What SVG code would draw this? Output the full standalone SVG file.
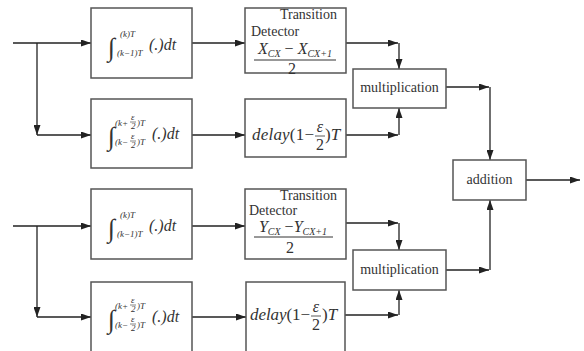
<svg xmlns="http://www.w3.org/2000/svg" width="584" height="351" viewBox="0 0 584 351" font-family="'Liberation Serif', 'DejaVu Serif', serif">
<style>
.box{fill:#fff;stroke:#555;stroke-width:1.5}
.ln{fill:none;stroke:#222;stroke-width:1.3}
text{font-family:'Liberation Serif','DejaVu Serif',serif;fill:#333}
.lb{font-size:14px}
.m{font-style:italic}
.int{font-size:26px}
.lim{font-size:9px;font-style:italic}
.ex{font-size:16px}
.dl{font-size:17px}
.sub{font-size:10px;font-style:italic}
</style>
<defs>
<marker id="ar" markerWidth="10" markerHeight="7" refX="10" refY="3.5" orient="auto" markerUnits="userSpaceOnUse">
<path d="M0,0 L10,3.5 L0,7 z" fill="#222"/>
</marker>
</defs>
<rect width="584" height="351" fill="#fff"/>
<g id="connectors" class="ln" marker-end="url(#ar)">
<path d="M13,43 H91"/>
<path d="M37,43 V135"/>
<path d="M37,135 H91"/>
<path d="M192,43 H245"/>
<path d="M192,135 H245"/>
<path d="M346,43 H398"/>
<path d="M399,43 V69"/>
<path d="M346,135 H398"/>
<path d="M399,135 V108"/>
<path d="M446,87 H489"/>
<path d="M490,87 V160"/>
<path d="M526,180 H580"/>
<path d="M13,226 H91"/>
<path d="M37,226 V317"/>
<path d="M37,317 H91"/>
<path d="M192,226 H245"/>
<path d="M192,317 H246"/>
<path d="M346,223 H398"/>
<path d="M399,223 V250"/>
<path d="M345,315 H398"/>
<path d="M399,315 V290"/>
<path d="M446,270 H489"/>
<path d="M490,270 V200"/>
</g>
<g id="int1">
<rect class="box" x="91" y="8" width="101" height="70"/>
<text class="int" x="108" y="56">∫</text>
<text class="lim" x="120" y="37">(k)T</text>
<text class="lim" x="117" y="56">(k−1)T</text>
<text class="ex m" x="149" y="50">(.)dt</text>
</g>
<g id="int2">
<rect class="box" x="91" y="99" width="101" height="69"/>
<text class="int" x="108" y="145">∫</text>
<text class="lim" x="115" y="126">(k+</text>
<text class="lim" x="131" y="120">ε</text>
<line x1="130" y1="122" x2="136" y2="122" stroke="#333" stroke-width="0.6"/>
<text class="lim" x="131" y="129">2</text>
<text class="lim" x="137" y="126">)T</text>
<text class="lim" x="115" y="145">(k−</text>
<text class="lim" x="131" y="139">ε</text>
<line x1="130" y1="141" x2="136" y2="141" stroke="#333" stroke-width="0.6"/>
<text class="lim" x="131" y="148">2</text>
<text class="lim" x="137" y="145">)T</text>
<text class="ex m" x="152" y="139">(.)dt</text>
</g>
<g id="td1">
<rect class="box" x="245" y="8" width="101" height="65"/>
<text class="lb" x="337" y="19" text-anchor="end">Transition</text>
<text class="lb" x="251" y="36">Detector</text>
<text class="ex" x="295" y="54" text-anchor="middle"><tspan class="m">X</tspan><tspan class="sub" dy="3">CX</tspan><tspan dy="-3"> − </tspan><tspan class="m">X</tspan><tspan class="sub" dy="3">CX+1</tspan></text>
<line x1="254" y1="60" x2="336" y2="60" stroke="#333" stroke-width="1"/>
<text class="ex" x="292" y="74" text-anchor="middle">2</text>
</g>
<g id="delay1">
<rect class="box" x="245" y="99" width="101" height="58"/>
<text class="dl" x="252" y="140" textLength="62" lengthAdjust="spacing"><tspan class="m">delay</tspan>(1−</text>
<text class="ex m" x="320" y="132" text-anchor="middle">ε</text>
<line x1="315" y1="136" x2="325" y2="136" stroke="#333" stroke-width="0.8"/>
<text class="ex" x="320" y="150" text-anchor="middle">2</text>
<text class="dl" x="325" y="140">)<tspan class="m">T</tspan></text>
</g>
<g id="mult1">
<rect class="box" x="353" y="69" width="93" height="39"/>
<text class="lb" x="399.5" y="92" text-anchor="middle">multiplication</text>
</g>
<g id="addition">
<rect class="box" x="453" y="160" width="73" height="40"/>
<text class="lb" x="489.5" y="184" text-anchor="middle">addition</text>
</g>
<g id="int3">
<rect class="box" x="91" y="189" width="101" height="70"/>
<text class="int" x="108" y="237">∫</text>
<text class="lim" x="120" y="218">(k)T</text>
<text class="lim" x="117" y="237">(k−1)T</text>
<text class="ex m" x="149" y="231">(.)dt</text>
</g>
<g id="int4">
<rect class="box" x="91" y="282" width="101" height="75"/>
<text class="int" x="108" y="328">∫</text>
<text class="lim" x="115" y="309">(k+</text>
<text class="lim" x="131" y="303">ε</text>
<line x1="130" y1="305" x2="136" y2="305" stroke="#333" stroke-width="0.6"/>
<text class="lim" x="131" y="312">2</text>
<text class="lim" x="137" y="309">)T</text>
<text class="lim" x="115" y="328">(k−</text>
<text class="lim" x="131" y="322">ε</text>
<line x1="130" y1="324" x2="136" y2="324" stroke="#333" stroke-width="0.6"/>
<text class="lim" x="131" y="331">2</text>
<text class="lim" x="137" y="328">)T</text>
<text class="ex m" x="152" y="322">(.)dt</text>
</g>
<g id="td2">
<rect class="box" x="245" y="189" width="101" height="70"/>
<text class="lb" x="337" y="200" text-anchor="end">Transition</text>
<text class="lb" x="249" y="215">Detector</text>
<text class="ex" x="293" y="232" text-anchor="middle"><tspan class="m">Y</tspan><tspan class="sub" dy="3">CX</tspan><tspan dy="-3"> −</tspan><tspan class="m">Y</tspan><tspan class="sub" dy="3">CX+1</tspan></text>
<line x1="254" y1="237" x2="333" y2="237" stroke="#333" stroke-width="1"/>
<text class="ex" x="290" y="253" text-anchor="middle">2</text>
</g>
<g id="delay2">
<rect class="box" x="246" y="282" width="99" height="75"/>
<text class="dl" x="250" y="320" textLength="60" lengthAdjust="spacing"><tspan class="m">delay</tspan>(1−</text>
<text class="ex m" x="316" y="312" text-anchor="middle">ε</text>
<line x1="311" y1="316" x2="321" y2="316" stroke="#333" stroke-width="0.8"/>
<text class="ex" x="316" y="330" text-anchor="middle">2</text>
<text class="dl" x="322" y="320">)<tspan class="m">T</tspan></text>
</g>
<g id="mult2">
<rect class="box" x="353" y="250" width="93" height="40"/>
<text class="lb" x="399.5" y="274" text-anchor="middle">multiplication</text>
</g>
</svg>
